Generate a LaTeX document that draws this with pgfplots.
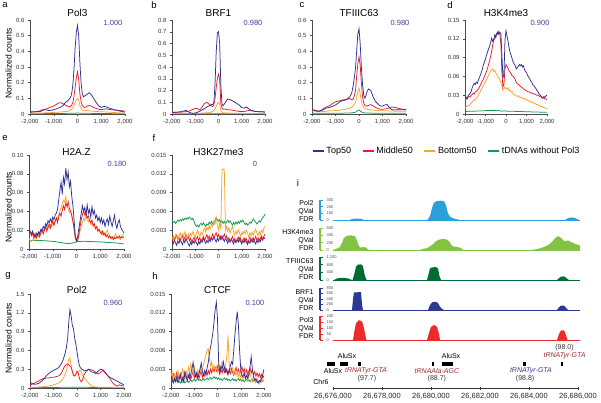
\documentclass[border=0pt]{standalone}
\usepackage{fontspec}
\setmainfont{Liberation Sans}
\usepackage{pgfplots}
\pgfplotsset{compat=1.18}
\usepackage{pgfplotstable}

\definecolor{topc}{HTML}{2E3192}
\definecolor{midc}{HTML}{ED1C24}
\definecolor{botc}{HTML}{F8A331}
\definecolor{tdnac}{HTML}{13994A}
\definecolor{valc}{HTML}{3C449C}
\definecolor{pol2c}{HTML}{2A9FD8}
\definecolor{h3k4c}{HTML}{82C341}
\definecolor{tfc}{HTML}{006B35}
\definecolor{brfc}{HTML}{2B3990}
\definecolor{pol3c}{HTML}{EE2A2A}
\definecolor{trnared}{HTML}{9B2D30}
\definecolor{trnablue}{HTML}{3D3A8C}

% a: Pol3
\pgfplotstableread{
x top mid bot tdna
-2000 0.012 0.010 0.004 0.002
-1900 0.015 0.012 0.005 0.002
-1800 0.014 0.013 0.005 0.002
-1700 0.016 0.015 0.006 0.002
-1600 0.015 0.020 0.006 0.002
-1500 0.020 0.025 0.006 0.002
-1400 0.028 0.030 0.007 0.003
-1300 0.025 0.032 0.008 0.003
-1200 0.022 0.040 0.008 0.003
-1100 0.024 0.045 0.009 0.003
-1000 0.028 0.052 0.010 0.003
-900 0.032 0.060 0.011 0.003
-800 0.038 0.070 0.012 0.003
-700 0.045 0.072 0.013 0.003
-600 0.055 0.065 0.015 0.003
-500 0.075 0.055 0.016 0.004
-400 0.085 0.048 0.018 0.004
-350 0.095 0.045 0.020 0.004
-300 0.105 0.048 0.025 0.004
-250 0.125 0.055 0.030 0.004
-200 0.180 0.070 0.040 0.005
-150 0.280 0.110 0.055 0.005
-100 0.420 0.170 0.075 0.005
-50 0.520 0.230 0.092 0.006
0 0.565 0.270 0.100 0.006
50 0.500 0.220 0.085 0.006
100 0.330 0.130 0.055 0.005
150 0.200 0.080 0.035 0.005
200 0.130 0.055 0.025 0.005
250 0.110 0.045 0.020 0.004
300 0.115 0.042 0.020 0.004
350 0.120 0.045 0.022 0.004
400 0.125 0.050 0.022 0.004
500 0.135 0.055 0.020 0.004
600 0.120 0.048 0.018 0.004
700 0.095 0.040 0.017 0.003
800 0.070 0.035 0.016 0.003
900 0.050 0.030 0.015 0.003
1000 0.042 0.028 0.015 0.003
1100 0.048 0.030 0.014 0.003
1200 0.046 0.033 0.013 0.003
1300 0.040 0.030 0.012 0.003
1400 0.035 0.028 0.011 0.003
1500 0.030 0.026 0.010 0.002
1600 0.025 0.025 0.009 0.002
1700 0.022 0.024 0.008 0.002
1800 0.018 0.022 0.007 0.002
1900 0.015 0.020 0.006 0.002
2000 0.012 0.018 0.005 0.002
}\tabA

% b: BRF1
\pgfplotstableread{
x top mid bot tdna
-2000 0.015 0.012 0.004 0.002
-1900 0.016 0.013 0.004 0.002
-1800 0.015 0.015 0.005 0.002
-1700 0.018 0.014 0.005 0.002
-1600 0.020 0.016 0.005 0.002
-1500 0.025 0.018 0.005 0.002
-1400 0.032 0.020 0.006 0.002
-1300 0.018 0.022 0.006 0.002
-1200 0.010 0.030 0.006 0.002
-1100 0.006 0.040 0.006 0.002
-1000 0.008 0.048 0.007 0.002
-900 0.015 0.045 0.007 0.002
-800 0.025 0.035 0.007 0.002
-700 0.035 0.060 0.008 0.002
-600 0.045 0.090 0.009 0.002
-500 0.060 0.100 0.010 0.002
-400 0.070 0.082 0.012 0.003
-350 0.075 0.075 0.014 0.003
-300 0.082 0.068 0.018 0.003
-250 0.080 0.062 0.022 0.003
-200 0.100 0.080 0.030 0.003
-150 0.250 0.130 0.045 0.003
-100 0.520 0.220 0.065 0.003
-50 0.690 0.300 0.090 0.003
0 0.700 0.340 0.100 0.003
50 0.600 0.290 0.080 0.003
100 0.250 0.090 0.035 0.003
150 0.085 0.050 0.015 0.002
200 0.070 0.040 0.010 0.002
250 0.085 0.042 0.010 0.002
300 0.100 0.040 0.009 0.002
350 0.115 0.038 0.008 0.002
400 0.128 0.036 0.008 0.002
500 0.122 0.035 0.007 0.002
600 0.112 0.032 0.007 0.002
700 0.100 0.028 0.006 0.002
800 0.088 0.025 0.006 0.002
900 0.075 0.022 0.006 0.002
1000 0.055 0.020 0.005 0.002
1100 0.050 0.022 0.005 0.002
1200 0.060 0.025 0.005 0.002
1300 0.045 0.030 0.005 0.002
1400 0.030 0.028 0.005 0.002
1500 0.025 0.025 0.005 0.002
1600 0.022 0.022 0.004 0.002
1700 0.020 0.020 0.004 0.002
1800 0.020 0.018 0.004 0.002
1900 0.018 0.020 0.004 0.002
2000 0.018 0.015 0.004 0.002
}\tabB

% c: TFIIIC63
\pgfplotstableread{
x top mid bot tdna
-2000 0.027 0.027 0.020 0.004
-1900 0.024 0.025 0.018 0.004
-1800 0.020 0.020 0.016 0.004
-1700 0.017 0.018 0.015 0.004
-1600 0.022 0.025 0.015 0.004
-1500 0.030 0.035 0.016 0.004
-1400 0.038 0.045 0.018 0.005
-1300 0.040 0.050 0.020 0.005
-1200 0.045 0.058 0.020 0.005
-1100 0.050 0.070 0.021 0.005
-1000 0.058 0.078 0.022 0.005
-900 0.068 0.082 0.023 0.005
-800 0.080 0.085 0.025 0.005
-700 0.085 0.090 0.027 0.005
-600 0.088 0.092 0.030 0.006
-500 0.095 0.095 0.033 0.006
-400 0.110 0.100 0.036 0.006
-350 0.120 0.095 0.040 0.007
-300 0.140 0.090 0.045 0.008
-250 0.180 0.095 0.050 0.009
-200 0.230 0.115 0.060 0.010
-150 0.290 0.150 0.075 0.012
-100 0.400 0.240 0.105 0.016
-50 0.510 0.320 0.145 0.022
0 0.545 0.365 0.165 0.026
50 0.450 0.310 0.130 0.020
100 0.300 0.200 0.080 0.014
150 0.190 0.110 0.055 0.010
200 0.120 0.070 0.042 0.008
250 0.100 0.055 0.035 0.007
300 0.120 0.050 0.032 0.007
350 0.145 0.052 0.030 0.006
400 0.160 0.055 0.028 0.006
500 0.150 0.060 0.026 0.006
600 0.110 0.052 0.025 0.005
700 0.080 0.042 0.024 0.005
800 0.065 0.035 0.022 0.005
900 0.052 0.030 0.021 0.005
1000 0.050 0.030 0.020 0.005
1100 0.058 0.032 0.020 0.005
1200 0.060 0.035 0.020 0.005
1300 0.040 0.040 0.019 0.004
1400 0.028 0.045 0.019 0.004
1500 0.026 0.042 0.018 0.004
1600 0.027 0.040 0.018 0.004
1700 0.028 0.035 0.018 0.004
1800 0.027 0.032 0.018 0.004
1900 0.028 0.030 0.018 0.004
2000 0.027 0.027 0.018 0.004
}\tabC

% d: H3K4me3
\pgfplotstableread{
x top mid bot tdna
-2000 0.025 0.023 0.009 0.0040
-1950 0.027 0.025 0.011 0.0042
-1900 0.024 0.024 0.012 0.0041
-1850 0.029 0.027 0.014 0.0043
-1800 0.031 0.028 0.013 0.0042
-1750 0.033 0.027 0.016 0.0044
-1700 0.036 0.030 0.017 0.0043
-1650 0.042 0.031 0.019 0.0045
-1600 0.046 0.033 0.021 0.0044
-1550 0.049 0.032 0.023 0.0046
-1500 0.047 0.035 0.022 0.0045
-1450 0.051 0.036 0.025 0.0047
-1400 0.049 0.038 0.027 0.0046
-1350 0.054 0.040 0.030 0.0048
-1300 0.058 0.043 0.033 0.0047
-1250 0.062 0.046 0.036 0.0049
-1200 0.067 0.050 0.040 0.0050
-1150 0.072 0.053 0.043 0.0051
-1100 0.079 0.056 0.046 0.0052
-1050 0.083 0.060 0.049 0.0053
-1000 0.088 0.064 0.052 0.0054
-950 0.094 0.068 0.055 0.0055
-900 0.099 0.073 0.058 0.0056
-850 0.104 0.079 0.062 0.0055
-800 0.108 0.085 0.065 0.0057
-750 0.114 0.092 0.068 0.0056
-700 0.121 0.100 0.070 0.0058
-650 0.116 0.110 0.072 0.0057
-600 0.119 0.117 0.068 0.0056
-550 0.126 0.121 0.070 0.0055
-500 0.122 0.126 0.066 0.0057
-450 0.128 0.129 0.063 0.0054
-400 0.131 0.127 0.060 0.0052
-350 0.127 0.132 0.057 0.0055
-300 0.130 0.128 0.055 0.0050
-250 0.128 0.112 0.050 0.0047
-200 0.095 0.065 0.044 0.0044
-150 0.058 0.043 0.038 0.0048
-100 0.062 0.048 0.040 0.0051
-50 0.118 0.072 0.043 0.0049
0 0.133 0.079 0.041 0.0047
50 0.124 0.076 0.039 0.0045
100 0.116 0.073 0.042 0.0046
150 0.106 0.069 0.037 0.0044
200 0.098 0.067 0.038 0.0045
250 0.094 0.064 0.035 0.0043
300 0.088 0.061 0.036 0.0044
350 0.083 0.060 0.032 0.0042
400 0.080 0.058 0.030 0.0043
450 0.077 0.055 0.031 0.0041
500 0.072 0.050 0.029 0.0042
550 0.074 0.049 0.028 0.0040
600 0.076 0.047 0.029 0.0041
650 0.079 0.046 0.027 0.0039
700 0.077 0.044 0.026 0.0040
750 0.079 0.043 0.027 0.0038
800 0.075 0.042 0.025 0.0039
850 0.077 0.040 0.024 0.0037
900 0.071 0.039 0.025 0.0038
950 0.068 0.038 0.023 0.0036
1000 0.066 0.037 0.022 0.0037
1050 0.062 0.036 0.023 0.0035
1100 0.059 0.035 0.021 0.0036
1150 0.057 0.035 0.020 0.0034
1200 0.053 0.034 0.019 0.0035
1250 0.051 0.033 0.020 0.0033
1300 0.047 0.033 0.018 0.0034
1350 0.046 0.032 0.017 0.0032
1400 0.043 0.032 0.017 0.0033
1450 0.041 0.031 0.016 0.0031
1500 0.038 0.030 0.015 0.0032
1550 0.036 0.030 0.015 0.0030
1600 0.033 0.029 0.014 0.0031
1650 0.031 0.028 0.013 0.0029
1700 0.029 0.027 0.012 0.0030
1750 0.027 0.026 0.012 0.0028
1800 0.026 0.025 0.011 0.0029
1850 0.028 0.025 0.010 0.0027
1900 0.026 0.024 0.010 0.0028
1950 0.029 0.024 0.009 0.0027
2000 0.030 0.023 0.008 0.0026
}\tabD

% e: H2A.Z
\pgfplotstableread{
x top mid bot tdna
-2000 0.020 0.016 0.011 0.0090
-1950 0.018 0.019 0.009 0.0088
-1900 0.016 0.014 0.008 0.0092
-1850 0.019 0.017 0.010 0.0089
-1800 0.015 0.012 0.009 0.0091
-1750 0.013 0.016 0.012 0.0087
-1700 0.017 0.011 0.014 0.0090
-1650 0.014 0.015 0.016 0.0092
-1600 0.018 0.018 0.013 0.0088
-1550 0.016 0.013 0.018 0.0090
-1500 0.021 0.017 0.020 0.0089
-1450 0.019 0.021 0.017 0.0091
-1400 0.024 0.016 0.021 0.0087
-1350 0.022 0.020 0.019 0.0089
-1300 0.027 0.024 0.023 0.0086
-1250 0.024 0.019 0.020 0.0088
-1200 0.030 0.023 0.024 0.0085
-1150 0.028 0.027 0.022 0.0083
-1100 0.032 0.022 0.026 0.0085
-1050 0.029 0.026 0.024 0.0082
-1000 0.034 0.030 0.028 0.0080
-950 0.031 0.025 0.026 0.0078
-900 0.036 0.029 0.030 0.0080
-850 0.038 0.033 0.033 0.0076
-800 0.042 0.028 0.031 0.0074
-750 0.052 0.034 0.036 0.0072
-700 0.062 0.038 0.040 0.0070
-650 0.071 0.035 0.044 0.0068
-600 0.058 0.041 0.048 0.0066
-550 0.076 0.046 0.052 0.0064
-500 0.069 0.042 0.050 0.0062
-450 0.086 0.049 0.056 0.0060
-400 0.074 0.045 0.047 0.0059
-350 0.082 0.050 0.043 0.0061
-300 0.066 0.043 0.039 0.0058
-250 0.072 0.040 0.041 0.0060
-200 0.056 0.036 0.034 0.0062
-150 0.046 0.030 0.028 0.0065
-100 0.030 0.022 0.020 0.0068
-50 0.014 0.012 0.012 0.0072
0 0.009 0.008 0.009 0.0075
50 0.013 0.009 0.010 0.0078
100 0.022 0.016 0.013 0.0080
150 0.030 0.024 0.019 0.0082
200 0.038 0.031 0.024 0.0079
250 0.046 0.037 0.029 0.0083
300 0.040 0.041 0.033 0.0081
350 0.044 0.036 0.030 0.0084
400 0.036 0.039 0.035 0.0080
450 0.047 0.033 0.031 0.0082
500 0.038 0.035 0.029 0.0079
550 0.042 0.030 0.032 0.0081
600 0.034 0.028 0.026 0.0078
650 0.045 0.031 0.028 0.0080
700 0.037 0.025 0.024 0.0077
750 0.041 0.027 0.026 0.0079
800 0.033 0.022 0.021 0.0076
850 0.036 0.024 0.023 0.0078
900 0.030 0.019 0.019 0.0075
950 0.034 0.021 0.021 0.0077
1000 0.028 0.018 0.017 0.0074
1050 0.033 0.016 0.019 0.0076
1100 0.027 0.019 0.015 0.0073
1150 0.031 0.015 0.017 0.0075
1200 0.024 0.017 0.014 0.0072
1250 0.029 0.013 0.018 0.0070
1300 0.032 0.015 0.020 0.0072
1350 0.026 0.012 0.016 0.0069
1400 0.035 0.014 0.014 0.0071
1450 0.029 0.011 0.012 0.0068
1500 0.024 0.013 0.013 0.0066
1550 0.030 0.010 0.011 0.0068
1600 0.036 0.012 0.014 0.0065
1650 0.027 0.011 0.016 0.0063
1700 0.022 0.013 0.013 0.0065
1750 0.028 0.012 0.011 0.0062
1800 0.031 0.014 0.012 0.0060
1850 0.024 0.012 0.010 0.0058
1900 0.021 0.013 0.013 0.0056
1950 0.019 0.012 0.015 0.0055
2000 0.017 0.013 0.016 0.0054
}\tabE

% f: H3K27me3
\pgfplotstableread{
x top mid bot tdna
-2000 0.0012 0.0016 0.0015 0.0045
-1950 0.0008 0.0020 0.0020 0.0042
-1900 0.0015 0.0013 0.0017 0.0044
-1850 0.0010 0.0018 0.0023 0.0041
-1800 0.0006 0.0022 0.0019 0.0043
-1750 0.0013 0.0015 0.0014 0.0046
-1700 0.0009 0.0019 0.0021 0.0044
-1650 0.0016 0.0012 0.0026 0.0047
-1600 0.0011 0.0017 0.0018 0.0045
-1550 0.0007 0.0021 0.0024 0.0048
-1500 0.0014 0.0014 0.0020 0.0046
-1450 0.0010 0.0018 0.0027 0.0049
-1400 0.0017 0.0023 0.0022 0.0047
-1350 0.0012 0.0016 0.0017 0.0050
-1300 0.0008 0.0020 0.0024 0.0048
-1250 0.0005 0.0013 0.0019 0.0051
-1200 0.0011 0.0017 0.0025 0.0049
-1150 0.0007 0.0011 0.0021 0.0047
-1100 0.0013 0.0015 0.0028 0.0049
-1050 0.0009 0.0019 0.0023 0.0044
-1000 0.0014 0.0012 0.0018 0.0039
-950 0.0010 0.0016 0.0025 0.0036
-900 0.0006 0.0020 0.0030 0.0038
-850 0.0012 0.0014 0.0024 0.0035
-800 0.0008 0.0018 0.0020 0.0039
-750 0.0015 0.0011 0.0027 0.0041
-700 0.0011 0.0015 0.0022 0.0038
-650 0.0017 0.0020 0.0029 0.0042
-600 0.0013 0.0014 0.0033 0.0039
-550 0.0009 0.0018 0.0027 0.0036
-500 0.0014 0.0023 0.0035 0.0040
-450 0.0010 0.0016 0.0030 0.0038
-400 0.0016 0.0021 0.0037 0.0043
-350 0.0012 0.0015 0.0032 0.0040
-300 0.0018 0.0019 0.0040 0.0044
-250 0.0014 0.0024 0.0036 0.0041
-200 0.0020 0.0017 0.0045 0.0039
-150 0.0015 0.0022 0.0040 0.0046
-100 0.0011 0.0026 0.0050 0.0050
-50 0.0017 0.0019 0.0038 0.0047
0 0.0013 0.0023 0.0030 0.0044
50 0.0019 0.0017 0.0042 0.0047
100 0.0015 0.0021 0.0032 0.0042
150 0.0021 0.0015 0.0125 0.0045
200 0.0016 0.0019 0.0128 0.0041
250 0.0012 0.0024 0.0126 0.0044
300 0.0018 0.0017 0.0030 0.0040
350 0.0013 0.0021 0.0036 0.0043
400 0.0009 0.0014 0.0028 0.0046
450 0.0015 0.0018 0.0034 0.0042
500 0.0011 0.0012 0.0025 0.0045
550 0.0016 0.0016 0.0031 0.0041
600 0.0012 0.0020 0.0036 0.0038
650 0.0008 0.0013 0.0027 0.0042
700 0.0014 0.0017 0.0022 0.0039
750 0.0010 0.0011 0.0029 0.0043
800 0.0015 0.0015 0.0024 0.0040
850 0.0011 0.0019 0.0031 0.0044
900 0.0017 0.0013 0.0026 0.0041
950 0.0012 0.0017 0.0020 0.0045
1000 0.0008 0.0010 0.0027 0.0043
1050 0.0014 0.0014 0.0023 0.0046
1100 0.0010 0.0018 0.0029 0.0042
1150 0.0016 0.0012 0.0024 0.0039
1200 0.0011 0.0016 0.0030 0.0041
1250 0.0007 0.0010 0.0025 0.0038
1300 0.0013 0.0014 0.0019 0.0040
1350 0.0009 0.0019 0.0026 0.0043
1400 0.0015 0.0013 0.0021 0.0041
1450 0.0011 0.0017 0.0027 0.0045
1500 0.0017 0.0011 0.0022 0.0048
1550 0.0012 0.0015 0.0028 0.0045
1600 0.0008 0.0020 0.0032 0.0043
1650 0.0014 0.0014 0.0026 0.0040
1700 0.0010 0.0018 0.0021 0.0042
1750 0.0016 0.0012 0.0028 0.0045
1800 0.0012 0.0017 0.0023 0.0043
1850 0.0018 0.0021 0.0030 0.0047
1900 0.0014 0.0015 0.0026 0.0050
1950 0.0019 0.0020 0.0033 0.0052
2000 0.0016 0.0024 0.0036 0.0056
}\tabF

% g: Pol2
\pgfplotstableread{
x top mid bot tdna
-2000 0.090 0.05 0.010 0.008
-1900 0.070 0.06 0.010 0.008
-1800 0.060 0.08 0.012 0.008
-1700 0.065 0.10 0.013 0.008
-1600 0.080 0.12 0.015 0.008
-1500 0.110 0.14 0.018 0.009
-1400 0.150 0.15 0.022 0.009
-1300 0.200 0.16 0.027 0.009
-1200 0.230 0.16 0.033 0.009
-1100 0.260 0.17 0.040 0.010
-1000 0.280 0.17 0.050 0.010
-900 0.300 0.18 0.062 0.010
-800 0.320 0.19 0.078 0.010
-750 0.340 0.20 0.088 0.010
-700 0.370 0.22 0.100 0.011
-650 0.400 0.25 0.120 0.011
-600 0.440 0.29 0.145 0.011
-550 0.500 0.33 0.180 0.011
-500 0.560 0.36 0.220 0.012
-450 0.650 0.37 0.280 0.012
-400 0.780 0.38 0.360 0.012
-350 1.050 0.37 0.460 0.012
-300 1.250 0.35 0.480 0.012
-250 1.150 0.33 0.360 0.012
-200 1.000 0.27 0.260 0.012
-150 0.950 0.20 0.210 0.012
-100 0.800 0.19 0.200 0.012
-50 0.700 0.22 0.215 0.012
0 0.580 0.27 0.230 0.012
50 0.450 0.24 0.250 0.012
100 0.360 0.16 0.280 0.012
150 0.320 0.11 0.275 0.011
200 0.300 0.10 0.240 0.011
250 0.290 0.15 0.200 0.011
300 0.275 0.21 0.170 0.011
400 0.280 0.27 0.120 0.011
500 0.300 0.30 0.075 0.010
600 0.260 0.29 0.040 0.010
700 0.250 0.28 0.022 0.010
800 0.230 0.25 0.016 0.010
900 0.270 0.22 0.014 0.010
1000 0.300 0.25 0.013 0.010
1100 0.290 0.28 0.012 0.009
1200 0.250 0.24 0.012 0.009
1300 0.200 0.20 0.011 0.009
1400 0.170 0.15 0.011 0.009
1500 0.150 0.09 0.010 0.008
1600 0.130 0.05 0.010 0.008
1700 0.110 0.03 0.010 0.008
1800 0.090 0.05 0.010 0.008
1900 0.070 0.04 0.010 0.008
2000 0.050 0.03 0.010 0.008
}\tabG

% h: CTCF
\pgfplotstableread{
x top mid bot tdna
-2000 0.0020 0.0020 0.0018 0.0012
-1950 0.0012 0.0015 0.0025 0.0014
-1900 0.0008 0.0022 0.0015 0.0011
-1850 0.0015 0.0012 0.0022 0.0013
-1800 0.0010 0.0018 0.0012 0.0010
-1750 0.0018 0.0025 0.0020 0.0012
-1700 0.0009 0.0014 0.0028 0.0009
-1650 0.0014 0.0020 0.0016 0.0011
-1600 0.0022 0.0016 0.0024 0.0008
-1550 0.0011 0.0023 0.0019 0.0010
-1500 0.0016 0.0013 0.0030 0.0009
-1450 0.0010 0.0019 0.0022 0.0011
-1400 0.0025 0.0026 0.0018 0.0008
-1350 0.0018 0.0015 0.0027 0.0010
-1300 0.0012 0.0021 0.0020 0.0012
-1250 0.0020 0.0017 0.0033 0.0009
-1200 0.0015 0.0024 0.0026 0.0011
-1150 0.0022 0.0014 0.0038 0.0013
-1100 0.0030 0.0020 0.0030 0.0010
-1050 0.0041 0.0027 0.0022 0.0012
-1000 0.0028 0.0016 0.0034 0.0014
-950 0.0018 0.0022 0.0026 0.0011
-900 0.0024 0.0018 0.0020 0.0013
-850 0.0016 0.0025 0.0029 0.0015
-800 0.0022 0.0015 0.0024 0.0012
-750 0.0030 0.0021 0.0032 0.0014
-700 0.0040 0.0028 0.0026 0.0011
-650 0.0026 0.0017 0.0030 0.0013
-600 0.0020 0.0023 0.0038 0.0015
-550 0.0028 0.0019 0.0045 0.0012
-500 0.0022 0.0026 0.0052 0.0014
-450 0.0032 0.0020 0.0060 0.0016
-400 0.0040 0.0028 0.0063 0.0013
-350 0.0055 0.0022 0.0048 0.0015
-300 0.0065 0.0030 0.0035 0.0017
-250 0.0075 0.0024 0.0042 0.0014
-200 0.0088 0.0032 0.0030 0.0016
-150 0.0105 0.0026 0.0036 0.0018
-100 0.0125 0.0033 0.0028 0.0015
-50 0.0137 0.0027 0.0034 0.0017
0 0.0110 0.0035 0.0026 0.0014
50 0.0040 0.0028 0.0038 0.0016
100 0.0025 0.0022 0.0030 0.0013
150 0.0035 0.0030 0.0035 0.0015
200 0.0030 0.0024 0.0042 0.0012
250 0.0042 0.0031 0.0038 0.0014
300 0.0032 0.0025 0.0030 0.0016
350 0.0025 0.0032 0.0036 0.0013
400 0.0030 0.0026 0.0050 0.0015
450 0.0022 0.0021 0.0084 0.0012
500 0.0028 0.0029 0.0040 0.0014
550 0.0035 0.0023 0.0030 0.0011
600 0.0042 0.0031 0.0025 0.0013
650 0.0038 0.0025 0.0032 0.0015
700 0.0060 0.0020 0.0022 0.0012
750 0.0085 0.0027 0.0028 0.0014
800 0.0105 0.0033 0.0020 0.0011
850 0.0122 0.0024 0.0026 0.0013
900 0.0100 0.0030 0.0018 0.0015
950 0.0060 0.0022 0.0024 0.0012
1000 0.0030 0.0028 0.0016 0.0014
1050 0.0020 0.0034 0.0022 0.0011
1100 0.0018 0.0025 0.0014 0.0013
1150 0.0024 0.0031 0.0020 0.0010
1200 0.0015 0.0023 0.0026 0.0012
1250 0.0020 0.0029 0.0018 0.0014
1300 0.0016 0.0021 0.0012 0.0011
1350 0.0022 0.0027 0.0019 0.0013
1400 0.0035 0.0032 0.0025 0.0010
1450 0.0050 0.0024 0.0015 0.0012
1500 0.0030 0.0029 0.0010 0.0014
1550 0.0018 0.0021 0.0018 0.0011
1600 0.0012 0.0026 0.0012 0.0013
1650 0.0015 0.0019 0.0008 0.0010
1700 0.0010 0.0024 0.0015 0.0012
1750 0.0008 0.0018 0.0010 0.0009
1800 0.0012 0.0023 0.0006 0.0011
1850 0.0010 0.0017 0.0012 0.0013
1900 0.0016 0.0022 0.0009 0.0010
1950 0.0022 0.0016 0.0014 0.0012
2000 0.0030 0.0020 0.0010 0.0011
}\tabH

\pgfplotsset{
  prof/.style={
    scale only axis, height=94pt, anchor=south west,
    axis lines*=left, xmin=-2000, xmax=2000, ymin=0,
    clip mode=individual, scaled y ticks=false, scaled x ticks=false,
    xtick={-2000,-1000,0,1000,2000},
    xticklabels={{-2,000},{-1,000},0,{1,000},{2,000}},
    tick label style={font=\fontsize{6}{7}\selectfont, text=black!80},
    axis line style={draw=black!70, line width=0.5pt},
    tick style={draw=black!70, line width=0.4pt},
    tick align=outside, major tick length=2pt,
    every axis plot/.append style={line width=0.75pt},
  },
  track/.style={
    scale only axis, width=260pt, anchor=south west,
    xmin=-0.531, xmax=10.082, ymin=0,
    axis x line=none, axis y line*=left,
    y axis line style={line width=2.6pt, draw=#1},
    tick style={draw=#1, line width=0.5pt},
    tick align=inside, major tick length=2.5pt,
    yticklabel style={font=\fontsize{4}{4.5}\selectfont, text=black!70,
                      anchor=west, xshift=3pt},
    clip=false,
  },
}
\tikzset{
  val/.style={font=\fontsize{7.5}{8}\selectfont, text=valc},
  ttl/.style={font=\fontsize{10}{11}\selectfont},
  lett/.style={font=\fontsize{9.5}{10}\selectfont},
  trk/.style={anchor=east, align=right, font=\fontsize{7}{8}\selectfont},
  ann/.style={font=\fontsize{7}{8}\selectfont},
}

\begin{document}
\begin{tikzpicture}[x=1pt,y=1pt]
\path[use as bounding box] (0,0) rectangle (601,402);

% ---- row 1
\begin{axis}[prof, width=95pt, at={(30pt,288pt)}, ymax=0.6,
  ytick={0,0.1,0.2,0.3,0.4,0.5,0.6}, yticklabels={0,0.1,0.2,0.3,0.4,0.5,0.6}]
\addplot[tdnac] table[x=x,y=tdna] {\tabA};
\addplot[botc] table[x=x,y=bot] {\tabA};
\addplot[midc] table[x=x,y=mid] {\tabA};
\addplot[topc] table[x=x,y=top] {\tabA};
\node[ttl] at (axis description cs:0.5,1.074) {Pol3};
\node[val] at (axis description cs:0.874,0.968) {1.000};
\end{axis}

\begin{axis}[prof, width=93pt, at={(172pt,288pt)}, ymax=0.8,
  ytick={0,0.1,0.2,0.3,0.4,0.5,0.6,0.7,0.8}, yticklabels={0,0.1,0.2,0.3,0.4,0.5,0.6,0.7,0.8}]
\addplot[tdnac] table[x=x,y=tdna] {\tabB};
\addplot[botc] table[x=x,y=bot] {\tabB};
\addplot[midc] table[x=x,y=mid] {\tabB};
\addplot[topc] table[x=x,y=top] {\tabB};
\node[ttl] at (axis description cs:0.5,1.074) {BRF1};
\node[val] at (axis description cs:0.871,0.968) {0.980};
\end{axis}

\begin{axis}[prof, width=94pt, at={(312pt,288pt)}, ymax=0.6,
  ytick={0,0.1,0.2,0.3,0.4,0.5,0.6}, yticklabels={0,0.1,0.2,0.3,0.4,0.5,0.6}]
\addplot[tdnac] table[x=x,y=tdna] {\tabC};
\addplot[botc] table[x=x,y=bot] {\tabC};
\addplot[midc] table[x=x,y=mid] {\tabC};
\addplot[topc] table[x=x,y=top] {\tabC};
\node[ttl] at (axis description cs:0.5,1.074) {TFIIIC63};
\node[val] at (axis description cs:0.936,0.968) {0.980};
\end{axis}

\begin{axis}[prof, width=82pt, at={(465pt,288pt)}, ymax=0.15,
  ytick={0,0.03,0.06,0.09,0.12,0.15}, yticklabels={0,0.03,0.06,0.09,0.12,0.15},
  legend style={at={(axis description cs:-1.866,-0.395)}, anchor=west,
    draw=none, fill=none, legend columns=4, inner sep=0pt,
    font=\fontsize{9}{10}\selectfont,
    /tikz/every even column/.append style={column sep=9pt}},
  legend image code/.code={\draw[#1] (0pt,0pt) -- (11pt,0pt);}]
\addlegendimage{topc, line width=1.3pt}\addlegendentry{Top50}
\addlegendimage{midc, line width=1.3pt}\addlegendentry{Middle50}
\addlegendimage{botc, line width=1.3pt}\addlegendentry{Bottom50}
\addlegendimage{tdnac, line width=1.3pt}\addlegendentry{tDNAs without Pol3}
\addplot[tdnac, forget plot] table[x=x,y=tdna] {\tabD};
\addplot[botc, forget plot] table[x=x,y=bot] {\tabD};
\addplot[midc, forget plot] table[x=x,y=mid] {\tabD};
\addplot[topc, forget plot] table[x=x,y=top] {\tabD};
\node[ttl] at (axis description cs:0.5,1.074) {H3K4me3};
\node[val] at (axis description cs:0.915,0.968) {0.900};
\end{axis}

% ---- row 2
\begin{axis}[prof, width=95pt, at={(29pt,153pt)}, ymax=0.1,
  ytick={0,0.02,0.04,0.06,0.08,0.1}, yticklabels={0,0.02,0.04,0.06,0.08,0.10}]
\addplot[tdnac] table[x=x,y=tdna] {\tabE};
\addplot[botc] table[x=x,y=bot] {\tabE};
\addplot[midc] table[x=x,y=mid] {\tabE};
\addplot[topc] table[x=x,y=top] {\tabE};
\node[ttl] at (axis description cs:0.5,1.035) {H2A.Z};
\node[val] at (axis description cs:0.926,0.904) {0.180};
\end{axis}

\begin{axis}[prof, width=93pt, at={(172pt,153pt)}, ymax=0.015,
  ytick={0,0.003,0.006,0.009,0.012,0.015}, yticklabels={0,0.003,0.006,0.009,0.012,0.015}]
\addplot[tdnac] table[x=x,y=tdna] {\tabF};
\addplot[topc] table[x=x,y=top] {\tabF};
\addplot[midc] table[x=x,y=mid] {\tabF};
\addplot[botc] table[x=x,y=bot] {\tabF};
\node[ttl] at (axis description cs:0.5,1.035) {H3K27me3};
\node[val] at (axis description cs:0.892,0.904) {0};
\end{axis}

% ---- row 3
\begin{axis}[prof, width=94pt, at={(30pt,14pt)}, ymax=1.5,
  ytick={0,0.3,0.6,0.9,1.2,1.5}, yticklabels={0,0.3,0.6,0.9,1.2,1.5}]
\addplot[tdnac] table[x=x,y=tdna] {\tabG};
\addplot[botc] table[x=x,y=bot] {\tabG};
\addplot[midc] table[x=x,y=mid] {\tabG};
\addplot[topc] table[x=x,y=top] {\tabG};
\node[ttl] at (axis description cs:0.5,1.043) {Pol2};
\node[val] at (axis description cs:0.883,0.904) {0.960};
\end{axis}

\begin{axis}[prof, width=93pt, at={(171pt,14pt)}, ymax=0.015,
  ytick={0,0.003,0.006,0.009,0.012,0.015}, yticklabels={0,0.003,0.006,0.009,0.012,0.015}]
\addplot[tdnac] table[x=x,y=tdna] {\tabH};
\addplot[midc] table[x=x,y=mid] {\tabH};
\addplot[botc] table[x=x,y=bot] {\tabH};
\addplot[topc] table[x=x,y=top] {\tabH};
\node[ttl] at (axis description cs:0.5,1.043) {CTCF};
\node[val] at (axis description cs:0.903,0.904) {0.100};
\end{axis}

% ---- panel i: browser tracks
\begin{axis}[track=pol2c, height=20pt, at={(320pt,182pt)}, ymax=300,
  ytick={0,100,200,300}, yticklabels={0,100,200,300}]
\addplot[pol2c, line width=0.6pt] coordinates {(0,0) (10.082,0)};
\addplot[fill=pol2c, draw=none] coordinates {(0.694,0) (0.776,15) (0.939,20) (1.143,18) (1.265,0)} \closedcycle;
\addplot[fill=pol2c, draw=none] coordinates {(3.796,0) (3.878,10) (3.959,60) (4.041,180) (4.122,260) (4.245,285) (4.408,290) (4.531,280) (4.612,220) (4.694,100) (4.776,50) (4.898,25) (5.061,10) (5.184,0)} \closedcycle;
\addplot[fill=pol2c, draw=none] coordinates {(9.469,0) (9.551,20) (9.673,37) (9.837,35) (9.959,15) (10.041,0)} \closedcycle;
\end{axis}

\begin{axis}[track=h3k4c, height=22pt, at={(320pt,152pt)}, ymax=600,
  ytick={0,200,400,600}, yticklabels={0,200,400,600}]
\addplot[h3k4c, line width=0.6pt] coordinates {(0,0) (10.082,0)};
\addplot[fill=h3k4c, draw=none] coordinates {(0,0) (0.163,40) (0.286,80) (0.367,200) (0.449,330) (0.571,390) (0.735,400) (0.898,380) (0.980,250) (1.061,100) (1.143,60) (1.224,80) (1.347,70) (1.429,10) (1.510,0)} \closedcycle;
\addplot[fill=h3k4c, draw=none] coordinates {(3.551,0) (3.673,30) (3.837,50) (3.959,100) (4.082,160) (4.204,240) (4.327,280) (4.449,300) (4.612,295) (4.735,240) (4.816,150) (4.898,100) (5.061,80) (5.224,60) (5.306,0)} \closedcycle;
\addplot[fill=h3k4c, draw=none] coordinates {(8.122,0) (8.367,30) (8.612,80) (8.816,150) (8.939,220) (9.061,320) (9.184,380) (9.306,330) (9.429,250) (9.510,240) (9.592,260) (9.714,220) (9.837,180) (9.959,150) (10.082,120) (10.082,0)} \closedcycle;
\end{axis}

\begin{axis}[track=tfc, height=23pt, at={(320pt,122pt)}, ymax=1200,
  ytick={0,400,800,1200}, yticklabels={0,400,800,{1,200}}]
\addplot[tfc, line width=0.6pt] coordinates {(0,0) (10.082,0)};
\addplot[fill=tfc, draw=none] coordinates {(0.041,0) (0.163,80) (0.286,110) (0.449,110) (0.612,80) (0.735,20) (0.776,0)} \closedcycle;
\addplot[fill=tfc, draw=none] coordinates {(0.796,0) (0.857,250) (0.939,700) (1.020,800) (1.143,820) (1.224,720) (1.286,300) (1.347,50) (1.388,0)} \closedcycle;
\addplot[fill=tfc, draw=none] coordinates {(3.837,0) (3.898,300) (3.959,600) (4.041,660) (4.204,670) (4.286,600) (4.347,200) (4.408,0)} \closedcycle;
\addplot[fill=tfc, draw=none] coordinates {(9.143,0) (9.224,100) (9.306,170) (9.429,190) (9.510,120) (9.592,30) (9.633,0)} \closedcycle;
\end{axis}

\begin{axis}[track=brfc, height=22pt, at={(320pt,92pt)}, ymax=800,
  ytick={0,200,400,600,800}, yticklabels={0,200,400,600,800}]
\addplot[brfc, line width=0.6pt] coordinates {(0,0) (10.082,0)};
\addplot[fill=brfc, draw=none] coordinates {(0.776,0) (0.816,400) (0.857,640) (1.143,650) (1.184,200) (1.224,0)} \closedcycle;
\addplot[fill=brfc, draw=none] coordinates {(3.878,0) (3.959,180) (4.041,280) (4.204,300) (4.286,250) (4.367,120) (4.449,40) (4.531,0)} \closedcycle;
\addplot[fill=brfc, draw=none] coordinates {(9.143,0) (9.224,100) (9.306,160) (9.429,160) (9.510,80) (9.592,0)} \closedcycle;
\end{axis}

\begin{axis}[track=pol3c, height=24pt, at={(320pt,62pt)}, ymax=200,
  ytick={0,50,100,150,200}, yticklabels={0,50,100,150,200}]
\addplot[pol3c, line width=0.6pt] coordinates {(0,0) (10.082,0)};
\addplot[fill=pol3c, draw=none] coordinates {(0.816,0) (0.878,80) (0.939,140) (1.061,165) (1.184,155) (1.265,100) (1.327,30) (1.367,0)} \closedcycle;
\addplot[fill=pol3c, draw=none] coordinates {(3.837,0) (3.918,60) (4.000,110) (4.122,125) (4.245,110) (4.327,50) (4.367,0)} \closedcycle;
\addplot[fill=pol3c, draw=none] coordinates {(9.143,0) (9.224,50) (9.306,80) (9.429,80) (9.510,40) (9.571,0)} \closedcycle;
\end{axis}

% ---- panel i: annotation and coordinate axis
\begin{axis}[scale only axis, width=245pt, height=43pt, anchor=south west,
  at={(333pt,14pt)}, xmin=0, xmax=10, ymin=0, ymax=43,
  axis x line*=bottom, axis y line=none, clip=false,
  xtick={0,2,4,6,8,10},
  xticklabels={{26,676,000},{26,678,000},{26,680,000},{26,682,000},{26,684,000},{26,686,000}},
  tick label style={font=\fontsize{7.5}{8}\selectfont, text=black!85},
  axis line style={draw=black!80, line width=0.5pt},
  tick style={draw=black!80, line width=0.5pt},
  tick align=center, major tick length=3pt]
\addplot[black, line width=4pt] coordinates {(-0.245,24) (0.082,24)};
\addplot[black, line width=4pt] coordinates {(0.286,24) (0.612,24)};
\addplot[black, line width=4pt] coordinates {(1.020,24) (1.143,24)};
\addplot[black, line width=4pt] coordinates {(4.041,24) (4.122,24)};
\addplot[black, line width=4pt] coordinates {(4.449,24) (4.898,24)};
\addplot[black, line width=4pt] coordinates {(7.755,24) (7.878,24)};
\addplot[black, line width=4pt] coordinates {(9.306,24) (9.388,24)};
\node[ann] at (axis cs:0.571,32) {AluSx};
\node[ann] at (axis cs:4.82,32) {AluSx};
\node[ann, text=black!80] at (axis cs:9.45,40) {(98.0)};
\node[ann, text=trnared] at (axis cs:9.45,32) {\itshape tRNATyr-GTA};
\node[ann] at (axis cs:0.0,17) {AluSx};
\node[ann, text=trnared] at (axis cs:1.35,17) {\itshape tRNATyr-GTA};
\node[ann, text=trnared] at (axis cs:4.24,17) {\itshape tRNAAla-AGC};
\node[ann, text=trnablue] at (axis cs:8.08,17) {\itshape tRNATyr-GTA};
\node[ann, text=black!80] at (axis cs:1.39,9) {(97.7)};
\node[ann, text=black!80] at (axis cs:4.24,9) {(88.7)};
\node[ann, text=black!80] at (axis cs:7.84,9) {(98.8)};
\node[ann] at (axis cs:-0.49,6) {Chr6};
\end{axis}

% ---- track labels
\node[trk] at (317pt,191pt) {Pol2\\QVal\\FDR};
\node[trk] at (317pt,161.5pt) {H3K4me3\\QVal\\FDR};
\node[trk] at (317pt,133pt) {TFIIIC63\\QVal\\FDR};
\node[trk] at (317pt,102pt) {BRF1\\QVal\\FDR};
\node[trk] at (317pt,74pt) {Pol3\\QVal\\FDR};

% ---- y labels and panel letters
\node[rotate=90, font=\fontsize{8.5}{9}\selectfont] at (8.5pt,339pt) {Normalized counts};
\node[rotate=90, font=\fontsize{8.5}{9}\selectfont] at (8.5pt,195pt) {Normalized counts};
\node[rotate=90, font=\fontsize{8.5}{9}\selectfont] at (8.5pt,64pt) {Normalized counts};
\node[lett] at (5pt,397pt) {a};
\node[lett] at (154pt,397pt) {b};
\node[lett] at (302pt,397pt) {c};
\node[lett] at (450pt,397pt) {d};
\node[lett] at (5pt,264pt) {e};
\node[lett] at (154pt,264pt) {f};
\node[lett] at (8pt,126pt) {g};
\node[lett] at (155pt,126pt) {h};
\node[lett] at (298pt,219pt) {i};
\end{tikzpicture}
\end{document}
